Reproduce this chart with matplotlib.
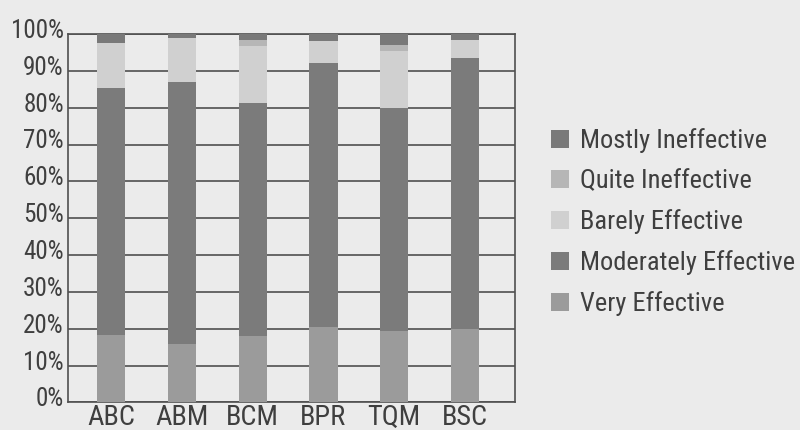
import matplotlib
matplotlib.use("Agg")
import matplotlib.pyplot as plt
from matplotlib import transforms
from matplotlib import font_manager as fm
from matplotlib.textpath import TextPath
import numpy as np

categories = ["ABC", "ABM", "BCM", "BPR", "TQM", "BSC"]
very_effective = [18.4, 15.9, 18.0, 20.6, 19.5, 20.0]
moderately_effective = [66.9, 71.0, 63.2, 71.4, 60.3, 73.4]
barely_effective = [12.2, 12.1, 15.4, 6.2, 15.7, 5.0]
quite_ineffective = [0.0, 0.0, 1.8, 0.0, 1.5, 0.0]
mostly_ineffective = [2.5, 1.0, 1.6, 1.8, 3.0, 1.6]
yticks = [0, 10, 20, 30, 40, 50, 60, 70, 80, 90, 100]
ytick_labels = ["0%", "10%", "20%", "30%", "40%", "50%", "60%", "70%", "80%", "90%", "100%"]

series = [
    ("Very Effective", very_effective, "#9b9b9b"),
    ("Moderately Effective", moderately_effective, "#7b7b7b"),
    ("Barely Effective", barely_effective, "#d0d0d0"),
    ("Quite Ineffective", quite_ineffective, "#b6b6b6"),
    ("Mostly Ineffective", mostly_ineffective, "#797979"),
]

# choose a condensed regular-weight font if one is installed
fonts = fm.fontManager.ttflist

def wrank(f):
    w = str(f.weight)
    if w in ("400", "normal", "regular", "book"):
        return 0
    if w in ("500", "medium"):
        return 1
    return 9

chosen = None
for cand in ["Roboto Condensed", "Liberation Sans Narrow", "Arial Narrow",
             "Open Sans Condensed", "DejaVu Sans Condensed", "Noto Sans Condensed"]:
    c = [f for f in fonts if f.name == cand and f.style == "normal" and wrank(f) < 9]
    if c:
        c.sort(key=wrank)
        chosen = fm.FontProperties(fname=c[0].fname)
        break
if chosen is None:
    for fam in ["Roboto", "Noto Sans", "DejaVu Sans", "Open Sans"]:
        cond = [f for f in fonts if f.name == fam and f.style == "normal" and wrank(f) < 9
                and str(f.stretch) in ("condensed", "semi-condensed", "75", "87")]
        if cond:
            cond.sort(key=lambda f: (wrank(f), 0 if str(f.stretch) in ("condensed", "75") else 1))
            chosen = fm.FontProperties(fname=cond[0].fname)
            break
if chosen is None:
    chosen = fm.FontProperties(family="Roboto")

def fit_size(s, target_px, max_pt):
    w = TextPath((0, 0), s, size=10, prop=chosen).get_extents().width
    pt = 10 * target_px / (w * 100 / 72)
    return min(pt, max_pt)

leg_size = fit_size("Moderately Effective", 212, 22)
ytick_size = fit_size("100%", 50, 22)
xtick_size = fit_size("ABC", 46, 24)

bg = "#ebebeb"
txt = "#3f3f3f"

fig = plt.figure(figsize=(8, 4.3), dpi=100, facecolor=bg)
ax = fig.add_axes([0.085, 0.064, 0.559, 0.857], facecolor=bg)

x = np.arange(len(categories))
bottom = np.zeros(len(categories))
handles = []
for name, vals, col in series:
    b = ax.bar(x, vals, width=0.40, bottom=bottom, color=col, label=name, zorder=3, linewidth=0)
    handles.append(b)
    bottom += np.array(vals)

ax.set_ylim(0, 100)
ax.set_xlim(-0.61, 5.71)
ax.set_yticks(yticks)
ax.set_yticklabels(ytick_labels)
ax.set_xticks(x)
ax.set_xticklabels(categories)
ax.yaxis.grid(True, color="#505050", linewidth=1.2, zorder=1)
ax.set_axisbelow(True)
for s in ax.spines.values():
    s.set_color("#505050")
    s.set_linewidth(1.2)
ax.tick_params(axis='both', length=0, colors=txt)
ax.tick_params(axis='y', pad=3)
ax.tick_params(axis='x', pad=1)
off = transforms.ScaledTranslation(0, 4/72, fig.dpi_scale_trans)
for lab in ax.get_yticklabels():
    lab.set_fontproperties(chosen)
    lab.set_fontsize(ytick_size)
    lab.set_transform(lab.get_transform() + off)
for lab in ax.get_xticklabels():
    lab.set_fontproperties(chosen)
    lab.set_fontsize(xtick_size)

lp = chosen.copy()
lp.set_size(leg_size)
labels = [s[0] for s in series][::-1]
LEG_Y = 0.483

def make_legend(ls, xa):
    lg = ax.legend(handles[::-1], labels,
                   loc='center left', bbox_to_anchor=(xa, LEG_Y), bbox_transform=fig.transFigure,
                   frameon=False, prop=lp, labelspacing=ls,
                   handlelength=0.7, handleheight=0.7, handletextpad=0.4, borderaxespad=0)
    for t in lg.get_texts():
        t.set_color(txt)
    return lg

leg = make_legend(0.0, 0.69)
fig.canvas.draw()
r = fig.canvas.get_renderer()
texts = leg.get_texts()
cur = abs(texts[0].get_window_extent(r).y0 - texts[1].get_window_extent(r).y0)
ls = (40 - cur) / (leg_size * 100 / 72)
leg.remove()
leg = make_legend(ls, 0.69)
fig.canvas.draw()
tx0 = leg.get_texts()[0].get_window_extent(r).x0
leg.remove()
leg = make_legend(ls, 0.69 + (580 - tx0) / 800)

fig.savefig("out.png", dpi=100, facecolor=bg)
